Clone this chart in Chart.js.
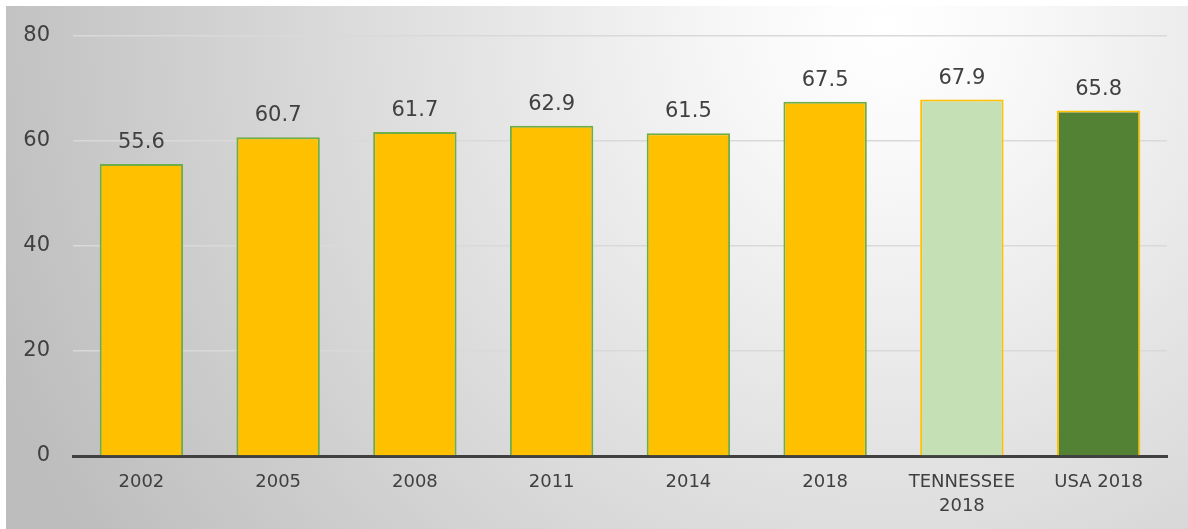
<!DOCTYPE html>
<html>
<head>
<meta charset="utf-8">
<script src="https://cdn.jsdelivr.net/npm/chart.js@4"></script>
<style>
  body { margin: 0; background: #fff; }
  #wrap { position: absolute; left: 6px; top: 6px; width: 1182px; height: 523px; }
</style>
</head>
<body>
<div id="wrap"><canvas id="bar-chart"></canvas></div>
<script>
const categories = ["2002", "2005", "2008", "2011", "2014", "2018", ["TENNESSEE", "2018"], "USA 2018"];
const values = [55.6, 60.7, 61.7, 62.9, 61.5, 67.5, 67.9, 65.8];
const yTicks = [0, 20, 40, 60, 80];

const fillColors = ["#FFC000", "#FFC000", "#FFC000", "#FFC000", "#FFC000", "#FFC000", "#C5E0B4", "#548235"];
const edgeColors = ["#70AD47", "#70AD47", "#70AD47", "#70AD47", "#70AD47", "#70AD47", "#FFC000", "#FFC000"];

const font = "'DejaVu Sans', sans-serif";

const backdrop = {
  id: "backdrop",
  beforeDraw(chart) {
    const { ctx, width, height } = chart;
    const g = ctx.createRadialGradient(880, 20, 0, 880, 20, 950);
    g.addColorStop(0, "#ffffff");
    g.addColorStop(0.15, "#f8f8f8");
    g.addColorStop(1, "#bdbdbd");
    ctx.save();
    ctx.fillStyle = g;
    ctx.fillRect(0, 0, width, height);
    ctx.restore();
  }
};

const valueLabels = {
  id: "valueLabels",
  afterDatasetsDraw(chart) {
    const { ctx } = chart;
    const meta = chart.getDatasetMeta(0);
    ctx.save();
    ctx.font = "21px " + font;
    ctx.fillStyle = "#404040";
    ctx.textAlign = "center";
    ctx.textBaseline = "alphabetic";
    meta.data.forEach((bar, i) => {
      ctx.fillText(values[i].toFixed(1), bar.x, bar.y - 16);
    });
    ctx.restore();
  }
};

new Chart(document.getElementById("bar-chart"), {
  type: "bar",
  data: {
    labels: categories,
    datasets: [{
      data: values,
      backgroundColor: fillColors,
      borderColor: edgeColors,
      borderWidth: 2,
      barPercentage: 0.61,
      categoryPercentage: 1
    }]
  },
  options: {
    responsive: true,
    maintainAspectRatio: false,
    animation: false,
    layout: { padding: { top: 30, right: 21, left: 0, bottom: 0 } },
    plugins: { legend: { display: false }, tooltip: { enabled: false } },
    scales: {
      x: {
        grid: { display: false, drawTicks: false },
        border: { color: "#404040", width: 3 },
        ticks: { color: "#404040", font: { family: font, size: 18, lineHeight: 1.3 }, padding: 15, maxRotation: 0 },
        afterFit: s => { s.height = 73; }
      },
      y: {
        min: 0,
        max: 80,
        afterBuildTicks: s => { s.ticks = yTicks.map(v => ({ value: v })); },
        grid: { color: "#d9d9d9", lineWidth: 1.5, drawTicks: true, tickLength: 20, tickColor: "rgba(0,0,0,0)" },
        border: { display: false },
        ticks: { color: "#404040", font: { family: font, size: 21 }, padding: 3 },
        afterFit: s => { s.width = 67; }
      }
    }
  },
  plugins: [backdrop, valueLabels]
});
</script>
</body>
</html>
